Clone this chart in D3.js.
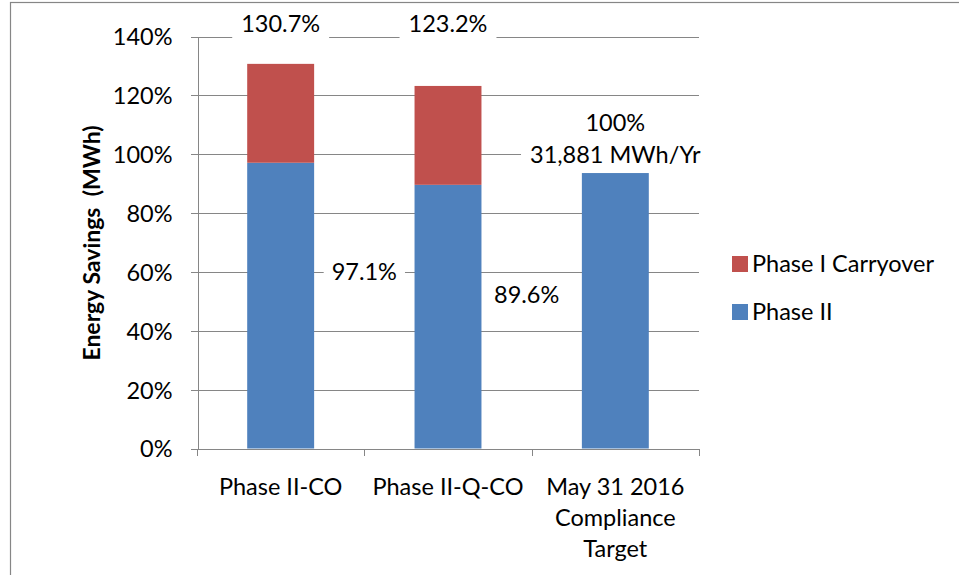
<!DOCTYPE html>
<html lang="en">
<head>
    <meta charset="UTF-8">
    <title>Energy Savings</title>
    <script src="https://d3js.org/d3.v7.min.js"></script>
    <style>
        body { margin: 0; background: #fff; }
        svg { display: block; font-family: Lato, "Open Sans", sans-serif; }
        .grid line { stroke: #868686; stroke-width: 1px; shape-rendering: crispEdges; }
        .axis line, .axis path { stroke: #868686; stroke-width: 1px; shape-rendering: crispEdges; }
        .txt { font-size: 23.5px; fill: #000; }
    </style>
</head>
<body>
<div id="chart"></div>
<script>
    // categories and values (percent of target)
    var categories = ["Phase II-CO", "Phase II-Q-CO", "May 31 2016 Compliance Target"];
    var categoryLines = [["Phase II-CO"], ["Phase II-Q-CO"], ["May 31 2016", "Compliance", "Target"]];
    var phaseII = [97.1, 89.6, 93.6];
    var carryover = [33.6, 33.6, 0];
    var seriesNames = ["Phase I Carryover", "Phase II"];
    var yTicks = [0, 20, 40, 60, 80, 100, 120, 140];
    var totalLabels = ["130.7%", "123.2%"];
    var phaseLabels = ["97.1%", "89.6%"];
    var targetLabel = ["100%", "31,881 MWh/Yr"];

    var W = 959, H = 575;
    var plotL = 197, plotR = 699, plotT = 36.5, plotB = 448.5;

    var svg = d3.select("#chart").append("svg")
        .attr("width", W)
        .attr("height", H);

    svg.append("rect").attr("width", W).attr("height", H).attr("fill", "#fff");
    // chart area border (runs off the right and bottom of the picture)
    svg.append("rect")
        .attr("x", 10.5).attr("y", 2.5)
        .attr("width", W + 20).attr("height", H + 20)
        .attr("fill", "none").attr("stroke", "#868686").attr("stroke-width", 1.2);

    var x = d3.scaleBand().domain(categories).range([plotL, plotR]).paddingInner(0).paddingOuter(0);
    var y = d3.scaleLinear().domain([0, 140]).range([plotB, plotT]);
    var color = d3.scaleOrdinal().domain(seriesNames).range(["#C0504D", "#4F81BD"]);

    // gridlines
    svg.append("g").attr("class", "grid")
        .selectAll("line")
        .data(yTicks.filter(function (d) { return d > 0; }))
        .enter().append("line")
        .attr("x1", plotL).attr("x2", plotR)
        .attr("y1", function (d) { return Math.round(y(d)) + 0.5; })
        .attr("y2", function (d) { return Math.round(y(d)) + 0.5; });

    // stacked bars
    var bw = x.bandwidth() * 0.4;
    var stackData = categories.map(function (c, i) {
        return { cat: c, "Phase II": phaseII[i], "Phase I Carryover": carryover[i] };
    });
    var stack = d3.stack().keys(["Phase II", "Phase I Carryover"])(stackData);

    svg.append("g").selectAll("g")
        .data(stack)
        .enter().append("g")
        .attr("fill", function (d) { return color(d.key); })
        .selectAll("rect")
        .data(function (d) { return d.filter(function (v) { return v[1] > v[0]; }); })
        .enter().append("rect")
        .attr("x", function (d) { return x(d.data.cat) + (x.bandwidth() - bw) / 2; })
        .attr("width", bw)
        .attr("y", function (d) { return y(d[1]); })
        .attr("height", function (d) { return y(d[0]) - y(d[1]); });

    // y axis
    var yAxis = svg.append("g").attr("class", "axis")
        .attr("transform", "translate(" + (plotL + 0.5) + ",0)")
        .call(d3.axisLeft(y).tickValues(yTicks).tickSize(7).tickPadding(18)
            .tickFormat(function (d) { return d + "%"; }));
    yAxis.attr("font-family", null).attr("font-size", null);
    yAxis.selectAll("text").attr("class", "txt").attr("fill", "#000")
        .attr("dy", "0.36em");

    // x axis: ticks on band boundaries
    var xAxis = svg.append("g").attr("class", "axis");
    xAxis.append("line")
        .attr("x1", plotL).attr("x2", plotR)
        .attr("y1", Math.round(plotB) + 0.5).attr("y2", Math.round(plotB) + 0.5);
    var bounds = categories.map(function (c) { return x(c); }).concat([plotR]);
    xAxis.selectAll(".xt").data(bounds).enter().append("line")
        .attr("x1", function (d) { return Math.round(d) + 0.5; })
        .attr("x2", function (d) { return Math.round(d) + 0.5; })
        .attr("y1", plotB).attr("y2", plotB + 7);

    var catText = svg.append("g").selectAll("text")
        .data(categoryLines)
        .enter().append("text")
        .attr("class", "txt")
        .attr("text-anchor", "middle")
        .attr("x", function (d, i) { return x(categories[i]) + x.bandwidth() / 2; })
        .attr("y", plotB + 46);
    catText.selectAll("tspan")
        .data(function (d) { return d; })
        .enter().append("tspan")
        .attr("x", function () { return d3.select(this.parentNode).attr("x"); })
        .attr("dy", function (d, i) { return i === 0 ? 0 : 31; })
        .text(function (d) { return d; });

    // y axis title
    svg.append("text")
        .attr("transform", "translate(100," + (y(70) + 0.5) + ") rotate(-90)")
        .attr("text-anchor", "middle")
        .attr("font-size", "23px")
        .attr("font-weight", "bold")
        .style("white-space", "pre")
        .text("Energy Savings  (MWh)");

    // data labels with white boxes that hide the gridlines
    function boxedLabel(cx, baseline, lines, pad) {
        var g = svg.append("g");
        var bg = g.append("rect").attr("fill", "#fff");
        var t = g.append("text").attr("class", "txt").attr("text-anchor", "middle");
        lines.forEach(function (s, i) {
            t.append("tspan").attr("x", cx).attr("y", baseline + i * 32).text(s);
        });
        var b = t.node().getBBox();
        bg.attr("x", b.x - pad).attr("y", b.y - 2)
          .attr("width", b.width + 2 * pad).attr("height", b.height + 4);
    }

    totalLabels.forEach(function (s, i) {
        boxedLabel(x(categories[i]) + x.bandwidth() / 2, y(140) - 4.5, [s], 9);
    });
    boxedLabel(x(categories[1]), y(60) + 8, [phaseLabels[0]], 8);
    boxedLabel(x(categories[2]) - 5, y(52) + 8, [phaseLabels[1]], 8);
    boxedLabel(x(categories[2]) + x.bandwidth() / 2, y(100) - 23, targetLabel, 9);

    // legend
    var legend = svg.append("g").selectAll("g")
        .data(seriesNames)
        .enter().append("g")
        .attr("transform", function (d, i) { return "translate(732," + (256 + i * 48) + ")"; });
    legend.append("rect")
        .attr("width", 16).attr("height", 16)
        .attr("fill", function (d) { return color(d); });
    legend.append("text")
        .attr("class", "txt")
        .attr("x", 20).attr("y", 15.5)
        .text(function (d) { return d; });
</script>
</body>
</html>
